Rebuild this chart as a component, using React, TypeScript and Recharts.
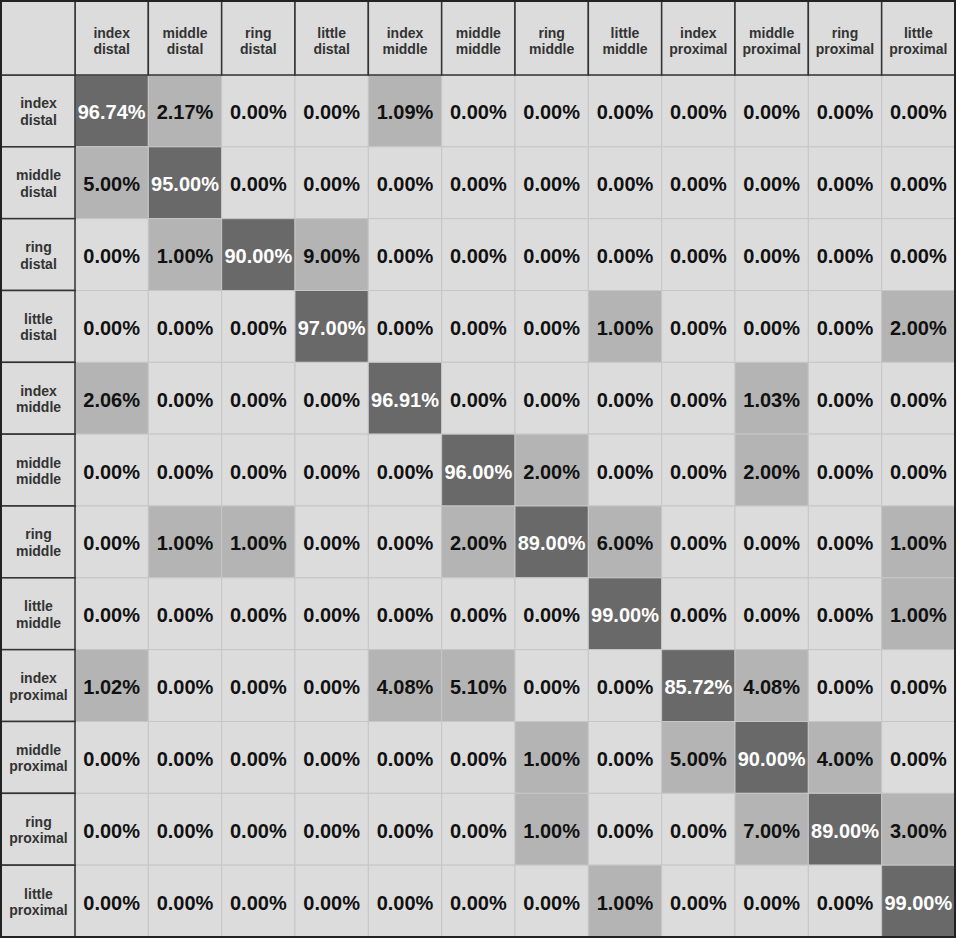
import { ScatterChart, Scatter, XAxis, YAxis } from "recharts";

const labels = [
  "index distal",
  "middle distal",
  "ring distal",
  "little distal",
  "index middle",
  "middle middle",
  "ring middle",
  "little middle",
  "index proximal",
  "middle proximal",
  "ring proximal",
  "little proximal",
];

// one array per true class (row), predicted class across
const indexDistal = [96.74, 2.17, 0, 0, 1.09, 0, 0, 0, 0, 0, 0, 0];
const middleDistal = [5.0, 95.0, 0, 0, 0, 0, 0, 0, 0, 0, 0, 0];
const ringDistal = [0, 1.0, 90.0, 9.0, 0, 0, 0, 0, 0, 0, 0, 0];
const littleDistal = [0, 0, 0, 97.0, 0, 0, 0, 1.0, 0, 0, 0, 2.0];
const indexMiddle = [2.06, 0, 0, 0, 96.91, 0, 0, 0, 0, 1.03, 0, 0];
const middleMiddle = [0, 0, 0, 0, 0, 96.0, 2.0, 0, 0, 2.0, 0, 0];
const ringMiddle = [0, 1.0, 1.0, 0, 0, 2.0, 89.0, 6.0, 0, 0, 0, 1.0];
const littleMiddle = [0, 0, 0, 0, 0, 0, 0, 99.0, 0, 0, 0, 1.0];
const indexProximal = [1.02, 0, 0, 0, 4.08, 5.1, 0, 0, 85.72, 4.08, 0, 0];
const middleProximal = [0, 0, 0, 0, 0, 0, 1.0, 0, 5.0, 90.0, 4.0, 0];
const ringProximal = [0, 0, 0, 0, 0, 0, 1.0, 0, 0, 7.0, 89.0, 3.0];
const littleProximal = [0, 0, 0, 0, 0, 0, 0, 1.0, 0, 0, 0, 99.0];

const rows = [
  indexDistal,
  middleDistal,
  ringDistal,
  littleDistal,
  indexMiddle,
  middleMiddle,
  ringMiddle,
  littleMiddle,
  indexProximal,
  middleProximal,
  ringProximal,
  littleProximal,
];

const cells = rows.flatMap((row, r) =>
  row.map((v, c) => ({ x: c + 0.5, y: r + 0.5, v }))
);

const centers = labels.map((_, i) => i + 0.5);

const W = 957;
const H = 938;
const HEAD = 75;
const CW = (W - 2 - HEAD) / 12;
const CH = (H - 1 - HEAD) / 12;
const FONT = "'Liberation Sans', Arial, sans-serif";

const fillFor = (v: number) => (v >= 50 ? "#696969" : v > 0 ? "#b4b4b4" : "#dcdcdc");

const HeadLabel = ({ x, y, text }: { x: number; y: number; text: string }) => {
  const [a, b] = text.split(" ");
  return (
    <text x={x} y={y} textAnchor="middle" fontFamily={FONT} fontSize={14} fontWeight="bold" fill="#333">
      <tspan x={x} dy={0}>{a}</tspan>
      <tspan x={x} dy={16.5}>{b}</tspan>
    </text>
  );
};

const TopTick = (props: any) => {
  const { x, payload } = props;
  const i = Math.floor(payload.value);
  return (
    <g>
      <rect x={x - CW / 2} y={1} width={CW} height={HEAD - 1} fill="#dcdcdc" stroke="#333" strokeWidth={1.5} />
      <HeadLabel x={x} y={37.5} text={labels[i]} />
    </g>
  );
};

const LeftTick = (props: any) => {
  const { y, payload } = props;
  const i = Math.floor(payload.value);
  return (
    <g>
      <rect x={1} y={y - CH / 2} width={HEAD - 1} height={CH} fill="#dcdcdc" stroke="#333" strokeWidth={1.5} />
      <HeadLabel x={HEAD / 2 + 1} y={y - 2.5} text={labels[i]} />
    </g>
  );
};

const CellShape = (props: any) => {
  const { cx, cy, payload } = props;
  const v = payload.v as number;
  return (
    <g>
      <rect x={cx - CW / 2} y={cy - CH / 2} width={CW} height={CH} fill={fillFor(v)} stroke="#c6c6c6" strokeWidth={1} />
      <text
        x={cx}
        y={cy + 8.5}
        textAnchor="middle"
        fontFamily={FONT}
        fontSize={20}
        fontWeight="bold"
        fill={v >= 50 ? "#fff" : "#111"}
      >
        {v.toFixed(2) + "%"}
      </text>
    </g>
  );
};

export default function App() {
  return (
    <div style={{ position: "absolute", left: 0, top: 0, width: W, height: H, background: "#fff" }}>
      <ScatterChart width={W} height={H} margin={{ top: 0, left: 0, right: 2, bottom: 1 }}>
        <XAxis
          dataKey="x"
          type="number"
          orientation="top"
          domain={[0, 12]}
          ticks={centers}
          interval={0}
          height={HEAD}
          axisLine={false}
          tickLine={false}
          tick={<TopTick />}
        />
        <YAxis
          dataKey="y"
          type="number"
          domain={[0, 12]}
          reversed
          ticks={centers}
          interval={0}
          width={HEAD}
          axisLine={false}
          tickLine={false}
          tick={<LeftTick />}
        />
        <Scatter data={cells} shape={<CellShape />} isAnimationActive={false} />
      </ScatterChart>
      <svg width={W} height={H} style={{ position: "absolute", left: 0, top: 0, pointerEvents: "none" }}>
        <rect x={1} y={1} width={HEAD - 1} height={HEAD - 1} fill="#dcdcdc" stroke="#333" strokeWidth={1.5} />
        <rect x={1} y={1} width={W - 3} height={H - 2} fill="none" stroke="#222" strokeWidth={2} />
      </svg>
    </div>
  );
}
